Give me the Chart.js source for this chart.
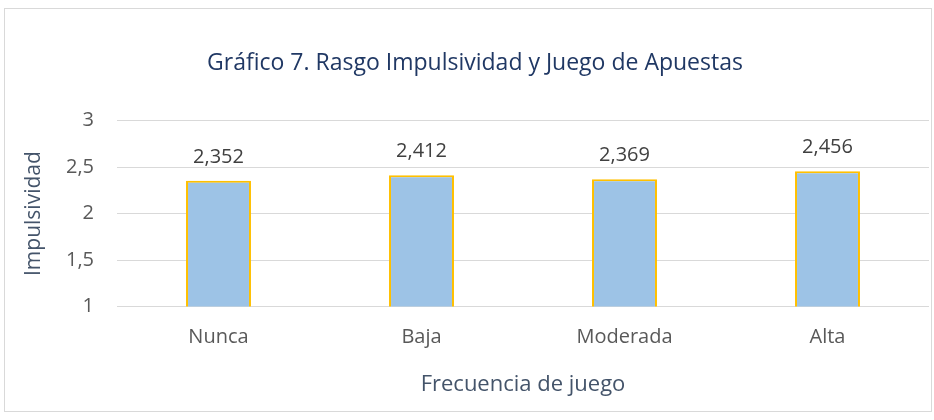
<!DOCTYPE html>
<html>
<head>
<meta charset="utf-8">
<script src="https://cdn.jsdelivr.net/npm/chart.js@4"></script>
<style>
  body { margin: 0; background: #fff; }
  #box { position: absolute; left: 4px; top: 8px; width: 926px; height: 402px; border: 1px solid #d9d9d9; }
  canvas { display: block; }
</style>
</head>
<body>
<div id="box"><canvas id="chart" width="926" height="402"></canvas></div>
<script>
// Data
const categories = ['Nunca', 'Baja', 'Moderada', 'Alta'];
const impulsividad = [2.352, 2.412, 2.369, 2.456];
const yTicks = [1, 1.5, 2, 2.5, 3];

const FONT = "'Open Sans', 'Noto Sans', sans-serif";

function comma(v, digits) {
  return v.toFixed(digits).replace('.', ',');
}

// Labels above each bar
const valueLabels = {
  id: 'valueLabels',
  afterDatasetsDraw(chart) {
    const ctx = chart.ctx;
    const meta = chart.getDatasetMeta(0);
    ctx.save();
    ctx.font = '20px ' + FONT;
    ctx.fillStyle = '#404040';
    ctx.textAlign = 'center';
    ctx.textBaseline = 'alphabetic';
    meta.data.forEach(function(bar, i) {
      ctx.fillText(comma(impulsividad[i], 3), bar.x, bar.y - 18);
    });
    ctx.restore();
  }
};

new Chart(document.getElementById('chart'), {
  type: 'bar',
  data: {
    labels: categories,
    datasets: [{
      data: impulsividad,
      backgroundColor: '#9dc3e6',
      borderColor: '#ffc000',
      borderWidth: 2,
      borderSkipped: false,
      categoryPercentage: 1,
      barPercentage: 0.32
    }]
  },
  options: {
    responsive: false,
    animation: false,
    layout: { padding: { left: 16, right: 2, top: 0, bottom: 9 } },
    plugins: {
      legend: { display: false },
      tooltip: { enabled: false },
      title: {
        display: true,
        text: 'Gráfico 7. Rasgo Impulsividad y Juego de Apuestas',
        color: '#203864',
        font: { family: FONT, size: 23, weight: 'normal' },
        padding: { top: 41, bottom: 43 }
      }
    },
    scales: {
      x: {
        grid: { display: false, drawTicks: false },
        border: { display: false },
        ticks: { color: '#595959', font: { family: FONT, size: 20 }, padding: 19 },
        title: {
          display: true,
          text: 'Frecuencia de juego',
          color: '#44546a',
          font: { family: FONT, size: 22 },
          padding: { top: 3 }
        }
      },
      y: {
        min: 1,
        max: 3,
        afterBuildTicks(scale) {
          scale.ticks = yTicks.map(function(v) { return { value: v }; });
        },
        afterFit(scale) { scale.width = 96; },
        grid: { color: '#d9d9d9', drawTicks: false },
        border: { display: false },
        ticks: {
          color: '#595959',
          font: { family: FONT, size: 20 },
          padding: 23,
          callback: function(v) { return comma(v, v % 1 === 0 ? 0 : 1); }
        },
        title: {
          display: true,
          text: 'Impulsividad',
          color: '#44546a',
          font: { family: FONT, size: 21 },
          padding: 0
        }
      }
    }
  },
  plugins: [valueLabels]
});
</script>
</body>
</html>
